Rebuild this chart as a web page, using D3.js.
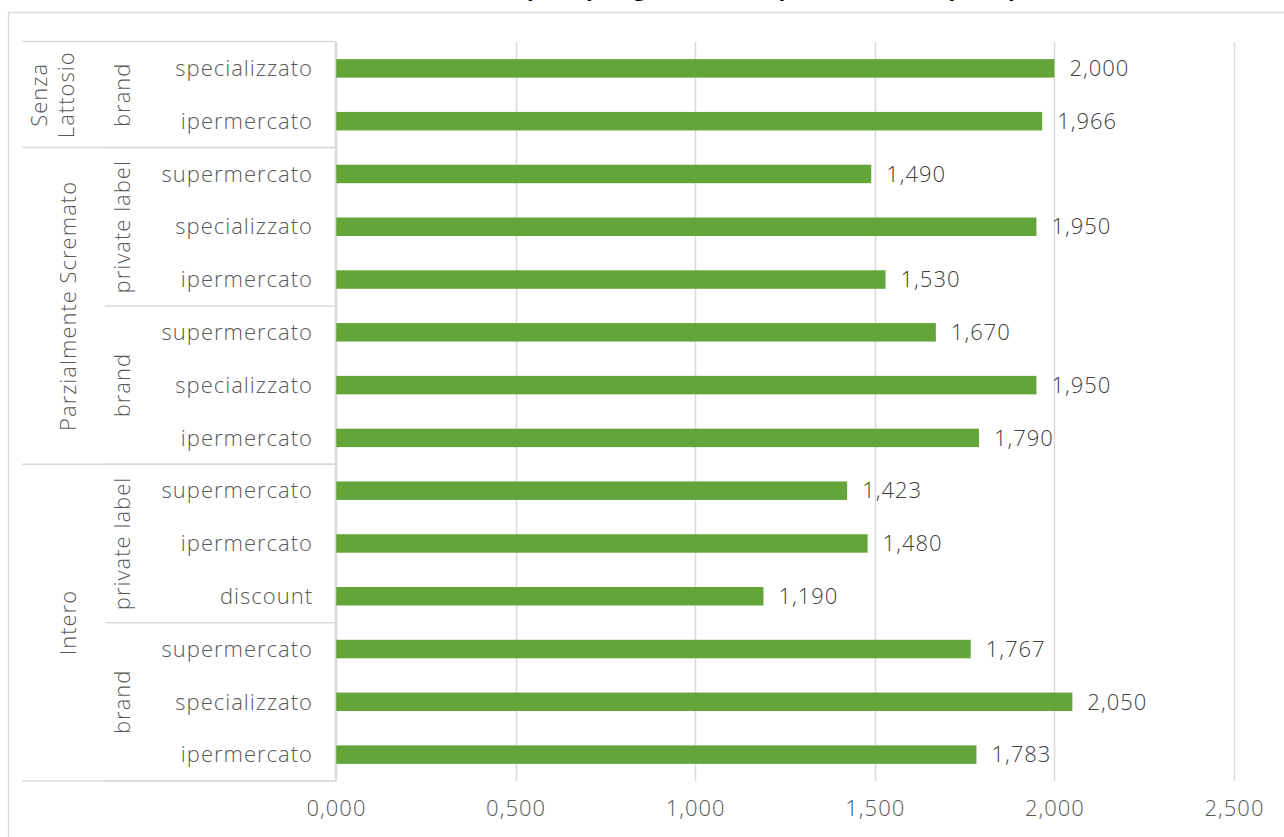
<!DOCTYPE html>
<html>
<head>
<meta charset="utf-8">
<script src="https://cdn.jsdelivr.net/npm/d3@7"></script>
<style>
  html, body { margin: 0; padding: 0; background: #fff; overflow: hidden; }
  svg { display: block; font-family: "Open Sans", "Noto Sans", sans-serif; }
</style>
</head>
<body>
<svg id="chart" width="1284" height="837"></svg>
<script>
// ---- data (top to bottom as displayed) ----
const tipologia = [
  "Senza Lattosio", "Senza Lattosio",
  "Parzialmente Scremato", "Parzialmente Scremato", "Parzialmente Scremato",
  "Parzialmente Scremato", "Parzialmente Scremato", "Parzialmente Scremato",
  "Intero", "Intero", "Intero", "Intero", "Intero", "Intero"
];
const marca = [
  "brand", "brand",
  "private label", "private label", "private label",
  "brand", "brand", "brand",
  "private label", "private label", "private label",
  "brand", "brand", "brand"
];
const canale = [
  "specializzato", "ipermercato",
  "supermercato", "specializzato", "ipermercato",
  "supermercato", "specializzato", "ipermercato",
  "supermercato", "ipermercato", "discount",
  "supermercato", "specializzato", "ipermercato"
];
const prezzo = [2.000, 1.966, 1.490, 1.950, 1.530, 1.670, 1.950, 1.790, 1.423, 1.480, 1.190, 1.767, 2.050, 1.783];
const xTicks = [0, 0.5, 1.0, 1.5, 2.0, 2.5];
const titolo = "Prezzo medio al litro per tipologia di latte, tipo di marca e tipo di punto vendita";

// ---- setup ----
const svg = d3.select("#chart");
const itLocale = d3.formatLocale({ decimal: ",", thousands: ".", grouping: [3], currency: ["€", ""] });
const fmt = itLocale.format(".3f");

const plot = { left: 336, right: 1234, top: 42, bottom: 781 };
const gridColor = "#d9d9d9";
const textColor = "#595959";
const barColor = "#63a538";
const FS = 22;
const FW = 300;
const LS = 1;

// chart border (extends beyond viewport)
svg.append("rect")
  .attr("x", 8.5).attr("y", 12.5)
  .attr("width", 1300).attr("height", 860)
  .attr("fill", "none").attr("stroke", gridColor).attr("stroke-width", 1.3);

// title (mostly above the visible area, as in the reference)
svg.append("text")
  .attr("x", 730).attr("y", -4)
  .attr("text-anchor", "middle")
  .attr("font-size", 22).attr("font-weight", "bold")
  .attr("fill", "#000")
  .text(titolo);

const x = d3.scaleLinear().domain([0, 2.5]).range([plot.left, plot.right]);
const y = d3.scaleBand().domain(d3.range(prezzo.length))
  .range([plot.top, plot.bottom]).paddingInner(0.65).paddingOuter(0.325);

// gridlines
svg.append("g").selectAll("line").data(xTicks).join("line")
  .attr("x1", d => Math.round(x(d)) + 0.5).attr("x2", d => Math.round(x(d)) + 0.5)
  .attr("y1", plot.top).attr("y2", plot.bottom)
  .attr("stroke", gridColor).attr("stroke-width", 1.5);

// x axis labels
const xAxis = d3.axisBottom(x).tickValues(xTicks).tickFormat(fmt).tickSize(0).tickPadding(0);
const gx = svg.append("g").attr("transform", `translate(0,${plot.bottom})`).call(xAxis);
gx.select(".domain").remove();
gx.selectAll("text")
  .attr("y", 27).attr("dy", "0.35em")
  .attr("font-family", "'Open Sans', 'Noto Sans', sans-serif")
  .attr("font-size", FS).attr("font-weight", FW).attr("letter-spacing", LS)
  .attr("fill", textColor);

// bars
svg.append("g").selectAll("rect").data(prezzo).join("rect")
  .attr("x", x(0))
  .attr("y", (d, i) => y(i))
  .attr("width", d => x(d) - x(0))
  .attr("height", y.bandwidth())
  .attr("fill", barColor);

// data labels
svg.append("g").selectAll("text").data(prezzo).join("text")
  .attr("x", d => x(d) + 15)
  .attr("y", (d, i) => y(i) + y.bandwidth() / 2)
  .attr("dy", "0.35em")
  .attr("font-size", FS).attr("font-weight", FW).attr("letter-spacing", LS)
  .attr("fill", "#404040")
  .text(d => fmt(d));

// ---- multi-level category axis ----
const cat = svg.append("g");
const step = y.step();
const rowTop = i => plot.top + i * step;
const col1Left = 22, col2Left = 105;

// axis line
cat.append("line")
  .attr("x1", plot.left - 0.5).attr("x2", plot.left - 0.5)
  .attr("y1", plot.top).attr("y2", plot.bottom)
  .attr("stroke", gridColor).attr("stroke-width", 1.5);

// level 3 labels (canale)
cat.selectAll("text.l3").data(canale).join("text")
  .attr("class", "l3")
  .attr("x", 313)
  .attr("y", (d, i) => y(i) + y.bandwidth() / 2)
  .attr("dy", "0.35em")
  .attr("text-anchor", "end")
  .attr("font-size", FS).attr("font-weight", FW).attr("letter-spacing", LS)
  .attr("fill", textColor)
  .text(d => d);

// helper: consecutive runs
function runs(keyFn) {
  const out = [];
  for (let i = 0; i < prezzo.length; i++) {
    const k = keyFn(i);
    if (out.length && out[out.length - 1].key === k) out[out.length - 1].end = i;
    else out.push({ key: k, start: i, end: i });
  }
  return out;
}
const g1 = runs(i => tipologia[i]);
const g2 = runs(i => tipologia[i] + "|" + marca[i]);

// horizontal separators
cat.append("line")
  .attr("x1", col1Left).attr("x2", plot.left)
  .attr("y1", plot.top - 0.5).attr("y2", plot.top - 0.5)
  .attr("stroke", gridColor).attr("stroke-width", 1.5);
g1.forEach(g => {
  cat.append("line")
    .attr("x1", col1Left).attr("x2", plot.left)
    .attr("y1", rowTop(g.end + 1)).attr("y2", rowTop(g.end + 1))
    .attr("stroke", gridColor).attr("stroke-width", 1.5);
});
g2.forEach(g => {
  cat.append("line")
    .attr("x1", col2Left).attr("x2", plot.left)
    .attr("y1", rowTop(g.end + 1)).attr("y2", rowTop(g.end + 1))
    .attr("stroke", gridColor).attr("stroke-width", 1.5);
});

// level 2 labels (marca)
g2.forEach(g => {
  const cy = (rowTop(g.start) + rowTop(g.end + 1)) / 2;
  cat.append("text")
    .attr("transform", `translate(122,${cy}) rotate(-90)`)
    .attr("text-anchor", "middle").attr("dy", "0.35em")
    .attr("font-size", FS).attr("font-weight", FW).attr("letter-spacing", LS)
    .attr("fill", textColor)
    .text(marca[g.start]);
});

// level 1 labels (tipologia), wrap when group is small
g1.forEach(g => {
  const cy = (rowTop(g.start) + rowTop(g.end + 1)) / 2;
  const span = rowTop(g.end + 1) - rowTop(g.start);
  const name = tipologia[g.start];
  const words = name.split(" ");
  const t = cat.append("text")
    .attr("transform", `translate(68,${cy}) rotate(-90)`)
    .attr("text-anchor", "middle")
    .attr("font-size", FS).attr("font-weight", FW).attr("letter-spacing", LS)
    .attr("fill", textColor);
  if (span < 160 && words.length > 1) {
    t.append("tspan").attr("x", 0).attr("dy", -21).text(words[0]);
    t.append("tspan").attr("x", 0).attr("dy", 27).text(words.slice(1).join(" "));
  } else {
    t.attr("dy", "0.35em").text(name);
  }
});
</script>
</body>
</html>
